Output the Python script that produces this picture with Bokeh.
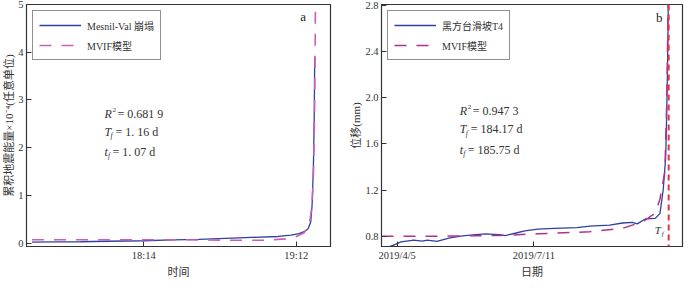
from bokeh.plotting import figure
from bokeh.layouts import row
from bokeh.models import Range1d, FixedTicker, Label, Span, PrintfTickFormatter
from bokeh.embed import file_html
from bokeh.resources import INLINE

# ---------------- data (panel a) : minutes since 00:00 ----------------
a_obs_t = [1051.5, 1060, 1070, 1080, 1094, 1105, 1115, 1125, 1135, 1145, 1150, 1153,
           1155, 1156.5, 1157.5, 1158, 1158.5, 1158.8, 1159]
a_obs_v = [0.02, 0.025, 0.03, 0.04, 0.05, 0.07, 0.08, 0.1, 0.12, 0.14, 0.17, 0.2,
           0.24, 0.3, 0.45, 0.8, 1.6, 2.6, 3.9]
a_mod_t = [1051.5, 1070, 1094, 1110, 1130, 1140, 1148, 1152, 1155, 1157, 1158, 1158.6,
           1159, 1159.3]
a_mod_v = [0.07, 0.07, 0.07, 0.07, 0.06, 0.06, 0.09, 0.14, 0.22, 0.4, 0.8, 1.6, 3.0, 5.2]
a_ticks = [1094, 1152]
a_tick_labels = ["18:14", "19:12"]
a_yticks = [0, 1, 2, 3, 4, 5]
a_stats = ["0.681 9", "1. 16 d", "1. 07 d"]

# ---------------- data (panel b) : days since 2019-04-05 ----------------
b_obs_d = [-6.5, -3, 2.8, 11.8, 17.8, 21.5, 28.2, 37.4, 46.4, 55.9, 62.9, 72.1, 76.7, 83.6,
           90.6, 99.8, 111.4, 127.5, 136.7, 150.6, 159.9, 166.8, 170.3, 176, 183, 186.4,
           188.7, 190.4, 190.9, 191.8, 192.3]
b_obs_v = [0.705, 0.72, 0.75, 0.765, 0.757, 0.765, 0.754, 0.784, 0.802, 0.813, 0.82, 0.813,
           0.805, 0.825, 0.846, 0.86, 0.867, 0.873, 0.887, 0.895, 0.914, 0.92, 0.906, 0.949,
           0.954, 0.995, 1.2, 1.47, 1.686, 2.28, 2.82]
b_mod_d = [-11.1, 30.5, 72.1, 99.8, 136.5, 160, 174.6, 183, 186.4, 189.9, 191.3, 192.2]
b_mod_v = [0.8, 0.8, 0.805, 0.82, 0.838, 0.868, 0.927, 1.0, 1.12, 1.36, 2.0, 2.82]
b_tf_day = 192.6
b_ticks = [0, 97]
b_tick_labels = ["2019/4/5", "2019/7/11"]
b_yticks = [0.8, 1.2, 1.6, 2.0, 2.4, 2.8]
b_stats = ["0.947 3", "184.17 d", "185.75 d"]

SERIF = "'Liberation Serif', 'Noto Sans CJK SC'"
BLUE = "#3040a0"


def style(p):
    p.outline_line_color = "#333333"
    p.outline_line_width = 1.2
    p.grid.visible = False
    for ax in (p.xaxis[0], p.yaxis[0]):
        ax.major_tick_in = 5
        ax.major_tick_out = 0
        ax.minor_tick_line_color = None
        ax.axis_line_color = "#333333"
        ax.major_tick_line_color = "#333333"
        ax.major_label_text_font = SERIF
        ax.major_label_text_font_size = "10.5px"
        ax.major_label_text_color = "#333333"
        ax.axis_label_text_font = SERIF
        ax.axis_label_text_font_size = "11px"
        ax.axis_label_text_font_style = "normal"
        ax.axis_label_text_color = "#333333"
        ax.major_label_standoff = 3
    p.xaxis[0].axis_label_standoff = 2
    p.yaxis[0].axis_label_standoff = 0
    lg = p.legend[0]
    lg.location = "top_left"
    lg.margin = 6
    lg.border_line_color = "#222222"
    lg.border_line_width = 1.5
    lg.label_text_font = SERIF
    lg.label_text_font_size = "10px"
    lg.label_text_color = "#333333"
    lg.glyph_width = 42
    lg.glyph_height = 16
    lg.label_standoff = 6
    lg.padding = 6
    lg.spacing = 4


def stats(p, x, ys, vals):
    kw = dict(text_font=SERIF, text_color="#333333", text_baseline="middle")
    p.add_layout(Label(x=x, y=ys[0], text="R", text_font_size="12px", text_font_style="italic", **kw))
    p.add_layout(Label(x=x, y=ys[0], x_offset=8, y_offset=4, text="2", text_font_size="7px", **kw))
    p.add_layout(Label(x=x, y=ys[0], x_offset=13, text="= " + vals[0], text_font_size="12px", **kw))
    # (letter, subscript offset, value offset)
    for yy, (letter, so, vo), v in zip(ys[1:], [("T", 6, 11), ("t", 3.5, 8)], vals[1:]):
        p.add_layout(Label(x=x, y=yy, text=letter, text_font_size="12px", text_font_style="italic", **kw))
        p.add_layout(Label(x=x, y=yy, x_offset=so, y_offset=-4, text="f", text_font_size="7.5px",
                           text_font_style="italic", **kw))
        p.add_layout(Label(x=x, y=yy, x_offset=vo, text="= " + v, text_font_size="12px", **kw))


# ---------------- panel a ----------------
pa = figure(width=342, height=280, output_backend="svg", toolbar_location=None,
            x_range=Range1d(1049.4, 1165), y_range=Range1d(-0.07, 5.0),
            min_border_left=26, min_border_right=12, min_border_top=4, min_border_bottom=0)
pa.line(a_obs_t, a_obs_v, line_color=BLUE, line_width=1.3, legend_label="Mesnil-Val 崩塌")
pa.line(a_mod_t, a_mod_v, line_color="#cc5fb5", line_width=1.6, line_dash="12 10",
        legend_label="MVIF模型")
pa.xaxis.ticker = FixedTicker(ticks=a_ticks)
pa.xaxis.major_label_overrides = dict(zip(a_ticks, a_tick_labels))
pa.yaxis.ticker = FixedTicker(ticks=a_yticks)
pa.xaxis.axis_label = "时间"
pa.yaxis.axis_label = "累积地震能量×10⁻⁴(任意单位)"
style(pa)
stats(pa, 1079.1, [2.71, 2.33, 1.92], a_stats)
pa.add_layout(Label(x=1153.5, y=4.75, text="a", text_font=SERIF, text_font_size="13px",
                    text_color="#222222", text_baseline="middle"))

# ---------------- panel b ----------------
pb = figure(width=342, height=280, output_backend="svg", toolbar_location=None,
            x_range=Range1d(-11.1, 202.4), y_range=Range1d(0.71, 2.81),
            min_border_left=39, min_border_right=2, min_border_top=2, min_border_bottom=0)
pb.line(b_obs_d, b_obs_v, line_color=BLUE, line_width=1.3, legend_label="黑方台滑坡T4")
pb.line(b_mod_d, b_mod_v, line_color="#b0308f", line_width=1.5, line_dash="12 10",
        legend_label="MVIF模型")
pb.add_layout(Span(location=b_tf_day, dimension="height", line_color="#e8333f",
                   line_width=2, line_dash="6 4"))
pb.xaxis.ticker = FixedTicker(ticks=b_ticks)
pb.xaxis.major_label_overrides = dict(zip(b_ticks, b_tick_labels))
pb.yaxis.ticker = FixedTicker(ticks=b_yticks)
pb.yaxis.formatter = PrintfTickFormatter(format="%.1f")
pb.xaxis.axis_label = "日期"
pb.yaxis.axis_label = "位移(mm)"
style(pb)
stats(pb, 44.4, [1.89, 1.727, 1.548], b_stats)
pb.add_layout(Label(x=183.6, y=2.694, text="b", text_font=SERIF, text_font_size="13px",
                    text_color="#222222", text_baseline="middle"))
pb.add_layout(Label(x=b_tf_day, y=0.857, x_offset=-14, text="T", text_font=SERIF,
                    text_font_size="11px", text_font_style="italic", text_color="#333333",
                    text_baseline="middle"))
pb.add_layout(Label(x=b_tf_day, y=0.857, x_offset=-7, y_offset=-4, text="f", text_font=SERIF,
                    text_font_size="7px", text_font_style="italic", text_color="#333333",
                    text_baseline="middle"))

layout = row(pa, pb)
open("out.html", "w").write(file_html(layout, INLINE))
